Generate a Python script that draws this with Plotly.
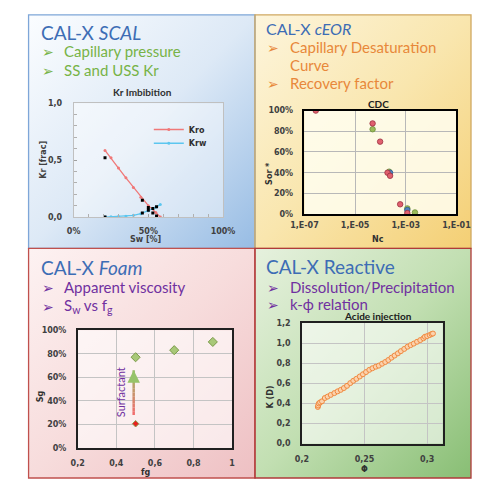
import base64
import plotly.graph_objects as go

W, H = 486, 483          # browser window
OFF = 8                  # default page body margin
WF, HF = W - OFF, H - OFF  # figure size so that it fits the window

# ---------------- data ----------------
# Panel 1: Kr imbibition
kro_sw = [0.21, 0.25, 0.30, 0.35, 0.40, 0.45, 0.50, 0.55, 0.58]
kro_kr = [0.585, 0.52, 0.43, 0.345, 0.26, 0.175, 0.10, 0.04, 0.0]
krw_sw = [0.21, 0.25, 0.30, 0.35, 0.40, 0.45, 0.50, 0.55, 0.58]
krw_kr = [0.0, 0.002, 0.004, 0.008, 0.015, 0.03, 0.055, 0.085, 0.11]
exp_sw = [0.21, 0.21, 0.46, 0.46, 0.50, 0.50, 0.53, 0.53, 0.555, 0.555]
exp_kr = [0.52, 0.0, 0.147, 0.035, 0.083, 0.06, 0.075, 0.035, 0.09, 0.009]

# Panel 2: CDC
cdc_red_nc = [2.8e-7, 4.9e-5, 9.7e-5, 1.9e-4, 2.4e-4, 6.0e-4, 1.15e-3]
cdc_red_sor = [1.0, 0.876, 0.70, 0.40, 0.37, 0.095, 0.01]
cdc_green_nc = [4.9e-5, 2.2e-4, 1.15e-3, 2.3e-3]
cdc_green_sor = [0.82, 0.41, 0.055, 0.016]
cdc_blue_nc = [2.4e-4, 1.15e-3]
cdc_blue_sor = [0.40, 0.04]
cdc_tickvals = [1e-7, 1e-5, 1e-3, 1e-1]
cdc_ticktext = ["1,E-07", "1,E-05", "1,E-03", "1,E-01"]

# Panel 3: Foam
foam_fg = [0.5, 0.7, 0.9]
foam_sg = [0.77, 0.83, 0.90]
nofoam_fg = [0.5]
nofoam_sg = [0.205]
arrow_fg = 0.49
arrow_sg = [0.28, 0.66]

# Panel 4: Acid injection (k-phi)
phi = [0.2127, 0.2130, 0.2135, 0.2145, 0.2160, 0.2183, 0.2205, 0.2230, 0.2259,
       0.2285, 0.2310, 0.2335, 0.2360, 0.2386, 0.2410, 0.2435, 0.2462, 0.2487,
       0.2512, 0.2538, 0.2563, 0.2590, 0.2614, 0.2640, 0.2665, 0.2690, 0.2715,
       0.2740, 0.2766, 0.2790, 0.2817, 0.2843, 0.2868, 0.2893, 0.2919, 0.2945,
       0.2970, 0.2982, 0.3000, 0.3020, 0.3035, 0.3046]
perm = [0.365, 0.38, 0.40, 0.41, 0.421, 0.454, 0.468, 0.485, 0.503,
        0.52, 0.535, 0.553, 0.575, 0.602, 0.625, 0.645, 0.668, 0.69,
        0.712, 0.734, 0.75, 0.765, 0.776, 0.795, 0.812, 0.832, 0.855,
        0.876, 0.898, 0.92, 0.942, 0.964, 0.98, 0.995, 1.013, 1.03,
        1.048, 1.063, 1.07, 1.08, 1.09, 1.095]


# ---------------- helpers (layout only) ----------------
def px(x):
    return (x - OFF) / WF


def py(y):
    return 1 - (y - OFF) / HF


def grad_uri(stops):
    st = "".join(f'<stop offset="{o}" stop-color="{c}"/>' for o, c in stops)
    svg = ('<svg xmlns="http://www.w3.org/2000/svg" viewBox="0 0 100 100" '
           'width="100" height="100" preserveAspectRatio="none"><defs>'
           f'<linearGradient id="g" x1="0" y1="0" x2="1" y2="1">{st}</linearGradient>'
           '</defs><rect width="100" height="100" fill="url(#g)"/></svg>')
    return "data:image/svg+xml;base64," + base64.b64encode(svg.encode()).decode()


TITLE_FONT = "Lato"
TICK_FONT = dict(family="DejaVu Sans", size=8, color="#404040", weight="bold")

fig = go.Figure()

# Panel 1 traces
fig.add_trace(go.Scatter(x=kro_sw, y=kro_kr, name="Kro", mode="lines+markers",
                         line=dict(color="#f07878", width=1.3),
                         marker=dict(size=3, color="#f07878"),
                         legend="legend", xaxis="x", yaxis="y"))
fig.add_trace(go.Scatter(x=krw_sw, y=krw_kr, name="Krw", mode="lines+markers",
                         line=dict(color="#5cc6ef", width=1.3),
                         marker=dict(size=3, color="#5cc6ef"),
                         legend="legend2", xaxis="x", yaxis="y"))
fig.add_trace(go.Scatter(x=exp_sw, y=exp_kr, mode="markers", showlegend=False,
                         marker=dict(size=3, color="black", symbol="square"),
                         xaxis="x", yaxis="y"))

# Panel 2 traces
for xs, ys, fc, lc in [(cdc_green_nc, cdc_green_sor, "#9bbb59", "#6f8f3a"),
                       (cdc_blue_nc, cdc_blue_sor, "#4f81bd", "#2f5a8f"),
                       (cdc_red_nc, cdc_red_sor, "#e0606e", "#9a3040")]:
    fig.add_trace(go.Scatter(x=xs, y=ys, mode="markers", showlegend=False,
                             marker=dict(size=5.5, color=fc, line=dict(color=lc, width=0.8)),
                             xaxis="x2", yaxis="y2"))

# Panel 3 traces
fig.add_trace(go.Scatter(x=foam_fg, y=foam_sg, mode="markers", showlegend=False,
                         marker=dict(size=7, symbol="diamond", color="#a8c878",
                                     line=dict(color="#7a9a48", width=1)),
                         xaxis="x3", yaxis="y3"))
fig.add_trace(go.Scatter(x=nofoam_fg, y=nofoam_sg, mode="markers", showlegend=False,
                         marker=dict(size=5, symbol="diamond", color="#e82020",
                                     line=dict(color="#8aa050", width=1)),
                         xaxis="x3", yaxis="y3"))

# Panel 4 traces
fig.add_trace(go.Scatter(x=phi, y=perm, mode="lines+markers", showlegend=False,
                         line=dict(color="#f29a55", width=2),
                         marker=dict(size=5, color="#fbd2ad",
                                     line=dict(color="#f08a40", width=1)),
                         xaxis="x4", yaxis="y4"))

# ---------------- axes ----------------
doms = {
    "1": ((63, 222), (101, 217)),
    "2": ((308.7, 470.5), (108.5, 214)),
    "3": ((67.3, 231.7), (332.3, 452.3)),
    "4": ((306, 456), (325, 448)),
}


def xd(k):
    a, b = doms[k][0]
    return [px(a), px(b)]


def yd(k):
    a, b = doms[k][1]
    return [py(b), py(a)]


common = dict(tickfont=TICK_FONT, showline=True, mirror=True, zeroline=False)

layout_axes = dict(
    xaxis=dict(domain=xd("1"), anchor="y", range=[0, 1], dtick=0.5, tickformat=".0%",
               ticks="inside", ticklen=3, tickcolor="#a0a0a0", showgrid=False,
               linecolor="#c0c0c0", linewidth=1,
               minor=dict(dtick=0.1, ticks="inside", ticklen=3, tickcolor="#b0b0b0"),
               ticklabelstandoff=6, **common),
    yaxis=dict(domain=yd("1"), anchor="x", range=[0, 1], dtick=0.5, tickformat=".1f",
               ticks="inside", ticklen=3, tickcolor="#a0a0a0", showgrid=False,
               linecolor="#c0c0c0", linewidth=1,
               minor=dict(dtick=0.1, ticks="inside", ticklen=3, tickcolor="#b0b0b0"),
               ticklabelstandoff=9, **common),
    xaxis2=dict(domain=xd("2"), anchor="y2", type="log", range=[-7, -1],
                tickvals=cdc_tickvals, ticktext=cdc_ticktext, showgrid=True,
                gridcolor="#b8b8b8", linecolor="black", linewidth=1.5,
                ticks="", ticklabelstandoff=3, **common),
    yaxis2=dict(domain=yd("2"), anchor="x2", range=[0, 1], dtick=0.2, tickformat=".0%",
                showgrid=True, gridcolor="#b8b8b8", linecolor="black", linewidth=1.5,
                ticks="", ticklabelstandoff=8, **common),
    xaxis3=dict(domain=xd("3"), anchor="y3", range=[0.2, 1], dtick=0.2,
                showgrid=True, gridcolor="#c4c4c4", linecolor="#202020", linewidth=1.5,
                ticks="", ticklabelstandoff=7, **common),
    yaxis3=dict(domain=yd("3"), anchor="x3", range=[0, 1], dtick=0.2, tickformat=".0%",
                showgrid=True, gridcolor="#c4c4c4", linecolor="#202020", linewidth=1.5,
                ticks="", ticklabelstandoff=8, **common),
    xaxis4=dict(domain=xd("4"), anchor="y4", range=[0.2, 0.3125], dtick=0.05,
                showgrid=True, gridcolor="#c4c4c4", linecolor="#202020", linewidth=1.5,
                ticks="", ticklabelstandoff=7, **common),
    yaxis4=dict(domain=yd("4"), anchor="x4", range=[0, 1.2], dtick=0.2, tickformat=".1f",
                showgrid=True, gridcolor="#c4c4c4", linecolor="#202020", linewidth=1.5,
                ticks="", ticklabelstandoff=8, **common),
)

# ---------------- backgrounds ----------------
panels = [
    (15, 11, 256, 249, [(0, "#fbfdff"), (0.5, "#dde9f6"), (1, "#97bce4")], "#7ea6d8"),
    (256, 11, 486, 249, [(0, "#fdf5dc"), (0.5, "#f9e6ae"), (1, "#f4cf74")], "#d0a860"),
    (15, 249, 256, 483, [(0, "#fdf2f2"), (0.5, "#f7dcdc"), (1, "#eec0c3")], "#c0504d"),
    (256, 249, 486, 483, [(0, "#e6f1de"), (0.5, "#c2dfb2"), (1, "#88be74")], "#b03a3a"),
]
images = []
shapes = []
for x0, y0, x1, y1, stops, bc in panels:
    images.append(dict(source=grad_uri(stops), xref="paper", yref="paper",
                       x=px(x0), y=py(y0), sizex=(x1 - x0) / WF, sizey=(y1 - y0) / HF,
                       sizing="stretch", xanchor="left", yanchor="top", layer="below"))
for x0, y0, x1, y1, stops, bc in panels:
    shapes.append(dict(type="rect", xref="paper", yref="paper", x0=px(x0), x1=px(x1),
                       y0=py(y1), y1=py(y0), line=dict(color=bc, width=1.3),
                       fillcolor="rgba(0,0,0,0)", layer="below"))

plot_bgs = {"1": "rgba(255,255,255,0.45)", "2": "rgba(255,254,240,0.85)",
            "3": "rgba(255,255,255,0.6)", "4": "rgba(255,255,255,0.6)"}
for k, ((a, b), (c, d)) in doms.items():
    shapes.append(dict(type="rect", xref="paper", yref="paper", x0=px(a), x1=px(b),
                       y0=py(d), y1=py(c), line=dict(width=0),
                       fillcolor=plot_bgs[k], layer="below"))

# Surfactant gradient arrow shaft (style only)
n_seg = 12
c_start = (240, 110, 110)
c_end = (150, 195, 105)
for i in range(n_seg):
    t0 = i / n_seg
    t1 = (i + 1) / n_seg
    r = int(c_start[0] + (c_end[0] - c_start[0]) * t0)
    g = int(c_start[1] + (c_end[1] - c_start[1]) * t0)
    bb = int(c_start[2] + (c_end[2] - c_start[2]) * t0)
    s0 = arrow_sg[0] + (arrow_sg[1] - arrow_sg[0]) * t0
    s1 = arrow_sg[0] + (arrow_sg[1] - arrow_sg[0]) * t1
    shapes.append(dict(type="line", xref="x3", yref="y3", x0=arrow_fg, x1=arrow_fg,
                       y0=s0, y1=s1, line=dict(color=f"rgb({r},{g},{bb})", width=2.5)))

# ---------------- text ----------------
ann = []


def text(t, x, y, size, color, family=TITLE_FONT, xanchor="left", angle=0, weight="normal"):
    ann.append(dict(text=t, x=px(x), y=py(y), xref="paper", yref="paper",
                    xanchor=xanchor, yanchor="middle", showarrow=False, textangle=angle,
                    align="left" if xanchor == "left" else "center",
                    font=dict(family=family, size=size, color=color, weight=weight)))


BLUE = "#3d6db5"
GREEN = "#77b347"
ORANGE = "#e8883a"
PURPLE = "#7030a0"
ARROW = "DejaVu Sans"
BUL = 15
ARS = 14

# Panel 1
text("CAL-X <i>SCAL</i>", 26, 29, 19, BLUE)
text("➢", 27, 49, ARS, GREEN, family=ARROW)
text("Capillary pressure", 51, 48, BUL, GREEN)
text("➢", 27, 68, ARS, GREEN, family=ARROW)
text("SS and USS Kr", 51, 67, BUL, GREEN)
text("Kr Imbibition", 136, 90, 10, "#303030", xanchor="center", weight="bold")
text("Kr [frac]", 31, 159, 8, "#404040", family="DejaVu Sans", xanchor="center",
     angle=-90, weight="bold")
text("Sw [%]", 140, 240, 8, "#404040", family="DejaVu Sans", xanchor="center", weight="bold")

# Panel 2
text("CAL-X <i>cEOR</i>", 266, 25, 16, BLUE)
text("➢", 267, 45, ARS, ORANGE, family=ARROW)
text("Capillary Desaturation", 291, 44, BUL, ORANGE)
text("Curve", 291, 62, BUL, ORANGE)
text("➢", 267, 81, ARS, ORANGE, family=ARROW)
text("Recovery factor", 291, 80, BUL, ORANGE)
text("CDC", 387, 102, 10, "#202020", xanchor="center", weight="bold")
text("Sor *", 272, 172, 8, "#303030", family="DejaVu Sans", xanchor="center",
     angle=-90, weight="bold")
text("Nc", 387, 240, 8, "#303030", family="DejaVu Sans", xanchor="center", weight="bold")

# Panel 3
text("CAL-X <i>Foam</i>", 26, 268, 19, BLUE)
text("➢", 27, 289, ARS, PURPLE, family=ARROW)
text("Apparent viscosity", 51, 288, BUL, PURPLE)
text("➢", 27, 309, ARS, PURPLE, family=ARROW)
text("S<sub>w</sub> vs f<sub>g</sub>", 51, 308, BUL, PURPLE)
text("Sg", 28, 400, 8, "#303030", family="DejaVu Sans", xanchor="center",
     angle=-90, weight="bold")
text("fg", 140, 477, 8, "#303030", family="DejaVu Sans", xanchor="center", weight="bold")
ann.append(dict(text="Surfactant", x=arrow_fg, y=(arrow_sg[0] + arrow_sg[1]) / 2,
                xref="x3", yref="y3", xshift=-13, showarrow=False, textangle=-90,
                font=dict(family=TITLE_FONT, size=11, color=PURPLE)))
ann.append(dict(text="", x=arrow_fg, y=arrow_sg[1], xref="x3", yref="y3",
                ax=arrow_fg, ay=arrow_sg[1] - 0.08, axref="x3", ayref="y3",
                showarrow=True, arrowhead=2, arrowsize=1, arrowwidth=2.5,
                arrowcolor="rgb(150,195,105)"))

# Panel 4
text("CAL-X Reactive", 266, 267, 19, BLUE)
text("➢", 267, 289, ARS, PURPLE, family=ARROW)
text("Dissolution/Precipitation", 291, 288, BUL, PURPLE)
text("➢", 267, 307, ARS, PURPLE, family=ARROW)
text("k-ϕ relation", 291, 306, BUL, PURPLE)
text("Acide injection", 387, 318, 10, "#202020", xanchor="center", weight="bold")
text("K (D)", 273, 400, 8, "#303030", family="DejaVu Sans", xanchor="center",
     angle=-90, weight="bold")
text("Φ", 373, 474, 8, "#303030", family="DejaVu Sans", xanchor="center", weight="bold")

LEG_FONT = dict(family="DejaVu Sans", size=8, color="#303030", weight="bold")
fig.update_layout(
    width=WF, height=HF, margin=dict(l=0, r=0, t=0, b=0),
    paper_bgcolor="white", plot_bgcolor="rgba(0,0,0,0)",
    separators=", ",
    showlegend=True,
    legend=dict(x=px(143), y=py(113), xanchor="left", yanchor="top",
                bgcolor="rgba(0,0,0,0)", itemwidth=30, font=LEG_FONT),
    legend2=dict(x=px(143), y=py(127), xanchor="left", yanchor="top",
                 bgcolor="rgba(0,0,0,0)", itemwidth=30, font=LEG_FONT),
    images=images, shapes=shapes, annotations=ann,
    **layout_axes,
)

fig.write_html("out.html")
